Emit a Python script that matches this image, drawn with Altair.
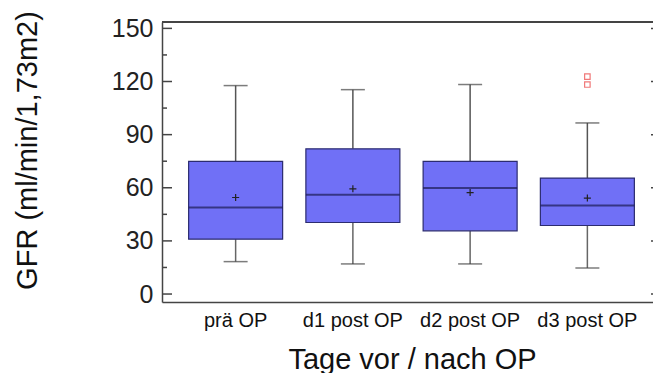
import altair as alt
import pandas as pd

categories = ["prä OP", "d1 post OP", "d2 post OP", "d3 post OP"]
whisker_low = [18.3, 17.0, 17.0, 14.7]
q1 = [31.0, 40.4, 35.7, 38.7]
median = [48.8, 56.0, 59.8, 50.0]
q3 = [74.9, 82.0, 74.9, 65.5]
whisker_high = [117.7, 115.4, 118.3, 96.6]
means = [54.5, 59.4, 57.3, 54.2]

outlier_cats = ["d3 post OP", "d3 post OP"]
outlier_vals = [122.8, 118.3]

major_ticks = [0, 30, 60, 90, 120, 150]
minor_ticks = [15, 45, 75, 105, 135]

box = pd.DataFrame({
    "cat": categories, "lo": whisker_low, "q1": q1, "med": median,
    "q3": q3, "hi": whisker_high, "mean": means,
})
outl = pd.DataFrame({"cat": outlier_cats, "v": outlier_vals})
majors = pd.DataFrame({"t": major_ticks})
minors = pd.DataFrame({"t": minor_ticks})

W, H = 491, 280
FONT = "Liberation Sans"
FRAME = "#444"

yscale = alt.Scale(domain=[-4.5, 153.6], nice=False, zero=False)
xscale = alt.Scale(range=[0, 499], paddingInner=0, paddingOuter=0.128)

xenc = alt.X(
    "cat:N", sort=categories, scale=xscale,
    axis=alt.Axis(
        title="Tage vor / nach OP", labelAngle=0, ticks=False, domain=True,
        domainColor=FRAME, domainWidth=1.5,
        labelFontSize=20, labelPadding=8, labelColor="#111", labelFont=FONT,
        titleFontSize=29, titleFontWeight="normal", titleColor="#111", titleFont=FONT,
        titleX=250, titleY=66, titleBaseline="alphabetic", titleAlign="center",
    ),
)
xc = alt.X("cat:N", sort=categories)

yaxis = alt.Axis(
    values=major_ticks, ticks=False, domain=True, grid=False,
    domainColor=FRAME, domainWidth=1.5,
    labelFontSize=25, labelPadding=9, labelColor="#222", labelFont=FONT,
    title="GFR (ml/min/1,73m2)", titleFontSize=29, titleFontWeight="normal",
    titleColor="#111", titleFont=FONT, titleAngle=270, titleX=-135, titleY=128,
    titleAlign="center", titleBaseline="middle",
)

base = alt.Chart(box)

whisk_lo = base.mark_rule(color="#666", strokeWidth=1.5).encode(
    x=xenc, y=alt.Y("lo:Q", scale=yscale, axis=yaxis), y2="q1:Q")
whisk_hi = base.mark_rule(color="#555", strokeWidth=1.5).encode(
    x=xc, y="q3:Q", y2="hi:Q")
cap_lo = base.mark_tick(size=24, thickness=1.5, color="#444").encode(x=xc, y="lo:Q")
cap_hi = base.mark_tick(size=24, thickness=1.5, color="#444").encode(x=xc, y="hi:Q")
boxes = base.mark_bar(size=94, color="#7070f6", stroke="#2c2c70", strokeWidth=1.2).encode(
    x=xc, y="q1:Q", y2="q3:Q")
med = base.mark_tick(size=94, thickness=2, color="#1c1c55").encode(x=xc, y="med:Q")
mean_pt = base.mark_point(shape="M-1,0L1,0M0,-1L0,1", size=50, filled=False,
                          strokeWidth=1.2, color="#222", opacity=1).encode(x=xc, y="mean:Q")
outs = alt.Chart(outl).mark_point(shape="square", filled=False, size=30,
                                  strokeWidth=1.2, color="#f07878", opacity=1).encode(
    x=xc, y="v:Q")

maj_l = alt.Chart(majors).mark_rule(color=FRAME, strokeWidth=1.5).encode(
    y="t:Q", x=alt.value(0), x2=alt.value(10))
min_l = alt.Chart(minors).mark_rule(color=FRAME, strokeWidth=1.5).encode(
    y="t:Q", x=alt.value(0), x2=alt.value(5))
maj_r = alt.Chart(majors).mark_rule(color=FRAME, strokeWidth=1.5).encode(
    y="t:Q", x=alt.value(499), x2=alt.value(489))
min_r = alt.Chart(minors).mark_rule(color=FRAME, strokeWidth=1.5).encode(
    y="t:Q", x=alt.value(499), x2=alt.value(494))
top_line = alt.Chart(majors).mark_rule(color=FRAME, strokeWidth=1.5).encode(
    y=alt.value(0), x=alt.value(0), x2=alt.value(499))

chart = alt.layer(
    whisk_lo, whisk_hi, cap_lo, cap_hi, boxes, med, mean_pt, outs,
    maj_l, min_l, maj_r, min_r, top_line,
).properties(
    width=W, height=H,
    autosize=alt.AutoSizeParams(type="none"),
    padding={"left": 162, "top": 22, "right": 0, "bottom": 71},
    background="white",
).configure_view(strokeWidth=0)

chart.save("out.html", embed_options={"renderer": "svg", "actions": False})
